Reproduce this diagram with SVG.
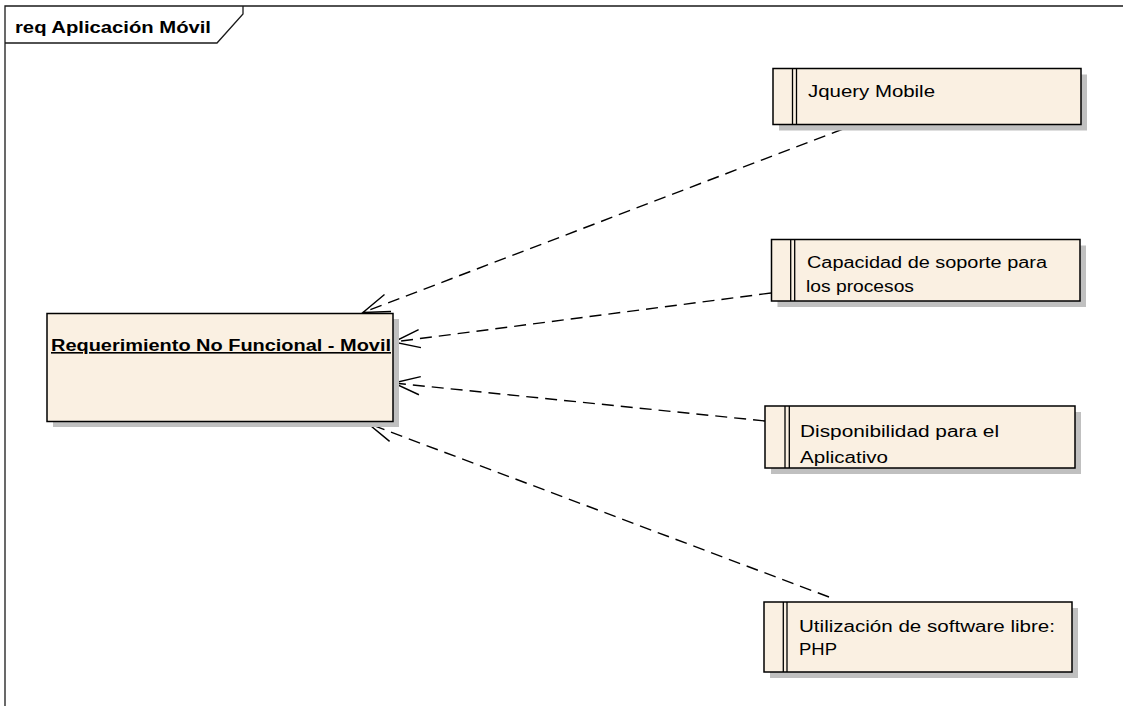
<svg xmlns="http://www.w3.org/2000/svg" width="1123" height="706" viewBox="0 0 1123 706">
  <defs>
    <marker id="open" markerUnits="userSpaceOnUse" markerWidth="40" markerHeight="40" refX="0" refY="0" orient="auto" overflow="visible">
      <path d="M-26.5,-9.1 L0,0 L-26.5,9.1" fill="none" stroke="#000" stroke-width="1.4" stroke-dasharray="none"/>
    </marker>
  </defs>
  <style>
    .frame { fill: none; stroke: #1a1a1a; stroke-width: 1.3; }
    .shadow { fill: #c0c0c0; stroke: none; }
    .box { fill: #faf0e2; stroke: #000; stroke-width: 1.5; }
    .bar { stroke: #000; stroke-width: 1.3; }
    .txt { font-family: "Liberation Sans", Arial, sans-serif; font-size: 16px; fill: #000; }
    .bold { font-weight: bold; }
    .dep { fill: none; stroke: #000; stroke-width: 1.4; stroke-dasharray: 12 7; marker-end: url(#open); }
  </style>
  <rect x="0" y="0" width="1123" height="706" fill="#fff"/>

  <g id="frame">
    <path class="frame" d="M5,706 V6 H1123"/>
    <path class="frame" d="M5,43 H217 L243,14 V6"/>
    <text class="txt bold" x="15" y="33" textLength="196" lengthAdjust="spacingAndGlyphs">req Aplicación Móvil</text>
  </g>

  <g id="connectors">
    <path class="dep" d="M843,129 L363,312.5"/>
    <path class="dep" d="M771,293 L393.5,342"/>
    <path class="dep" d="M765,421 L393.5,383"/>
    <path class="dep" d="M829,597 L368,423.5"/>
  </g>

  <g id="node-main">
    <rect class="shadow" x="53" y="319" width="346" height="108"/>
    <rect class="box" x="47" y="313.5" width="346" height="108"/>
    <text class="txt bold" x="51" y="351" textLength="340" lengthAdjust="spacingAndGlyphs" text-decoration="underline">Requerimiento No Funcional - Movil</text>
  </g>

  <g id="node-jquery">
    <rect class="shadow" x="779" y="74.5" width="308" height="56"/>
    <rect class="box" x="773" y="68.5" width="308" height="56"/>
    <line class="bar" x1="792.5" y1="68.5" x2="792.5" y2="124.5"/>
    <line class="bar" x1="796.5" y1="68.5" x2="796.5" y2="124.5"/>
    <text class="txt" x="808" y="97" textLength="127" lengthAdjust="spacingAndGlyphs">Jquery Mobile</text>
  </g>

  <g id="node-capacidad">
    <rect class="shadow" x="777.5" y="245.5" width="308.5" height="61.5"/>
    <rect class="box" x="771.5" y="239.5" width="308.5" height="61.5"/>
    <line class="bar" x1="790.7" y1="239.5" x2="790.7" y2="301"/>
    <line class="bar" x1="794.7" y1="239.5" x2="794.7" y2="301"/>
    <text class="txt" x="807" y="268" textLength="240" lengthAdjust="spacingAndGlyphs">Capacidad de soporte para</text>
    <text class="txt" x="806" y="292" textLength="108" lengthAdjust="spacingAndGlyphs">los procesos</text>
  </g>

  <g id="node-disponibilidad">
    <rect class="shadow" x="771" y="412" width="310" height="62"/>
    <rect class="box" x="765" y="406" width="310" height="62"/>
    <line class="bar" x1="785" y1="406" x2="785" y2="468"/>
    <line class="bar" x1="789.3" y1="406" x2="789.3" y2="468"/>
    <text class="txt" x="800" y="437" textLength="199" lengthAdjust="spacingAndGlyphs">Disponibilidad para el</text>
    <text class="txt" x="800" y="463" textLength="88" lengthAdjust="spacingAndGlyphs">Aplicativo</text>
  </g>

  <g id="node-utilizacion">
    <rect class="shadow" x="770" y="608" width="308" height="70"/>
    <rect class="box" x="764" y="602" width="308" height="70"/>
    <line class="bar" x1="783.3" y1="602" x2="783.3" y2="672"/>
    <line class="bar" x1="787" y1="602" x2="787" y2="672"/>
    <text class="txt" x="799" y="632" textLength="256" lengthAdjust="spacingAndGlyphs">Utilización de software libre:</text>
    <text class="txt" x="799" y="655" textLength="38" lengthAdjust="spacingAndGlyphs">PHP</text>
  </g>
</svg>
